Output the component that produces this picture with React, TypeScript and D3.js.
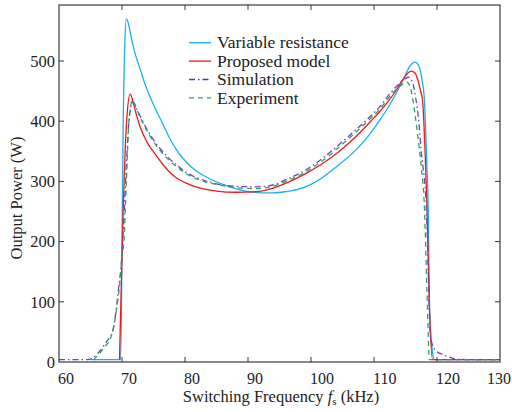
import React from "react";
import * as d3 from "d3";

// switching frequency (kHz) / output power (W)
const varResF = [65, 69.8, 70.0, 70.2, 70.45, 70.7, 71.0, 71.3, 71.7, 72.2, 72.9, 73.6, 74.4, 75.5, 76.5, 77.5, 78.5, 79.7, 81, 82.4, 84, 86, 88, 90, 92, 94, 96, 98.1, 100, 101.9, 104, 107.1, 109, 110.8, 112.3, 113.5, 114.6, 115.6, 116.5, 117.1, 117.6, 118.0, 118.4, 118.6, 118.8, 119.0, 119.3, 119.6, 130];
const varResP = [4, 4, 200, 400, 530, 570, 563, 548, 528, 508, 486, 463, 442, 416, 395, 373, 355, 338, 324, 313, 304, 295, 288, 283, 281, 281, 283, 287, 295, 307, 324, 352, 374, 400, 424, 446, 468, 490, 498, 492, 470, 435, 324, 259, 100, 50, 15, 4, 4];

const propF = [69.6, 70.2, 70.5, 70.8, 71.3, 71.8, 72.3, 72.9, 73.5, 74.2, 75, 76.5, 77.5, 78.5, 80, 82.4, 85, 88, 91.3, 94, 97.1, 99.5, 101.9, 104.5, 107.1, 109.5, 111, 112.4, 113.5, 114.5, 115.9, 116.5, 116.9, 117.4, 117.7, 118.1, 118.4, 118.8, 119.3, 130];
const propP = [4, 258, 350, 410, 445, 430, 410, 390, 375, 361, 349, 328, 316, 307, 298, 289, 284, 282, 283, 289, 302, 315, 330, 350, 374, 400, 417, 435, 451, 468, 483, 480, 471, 450, 435, 352, 259, 90, 4, 4];

const simF = [60, 64.5, 65.5, 66.4, 67.5, 68.6, 69.4, 70.0, 70.4, 70.8, 71.2, 71.7, 72.3, 73.0, 74.0, 75.0, 76.0, 77.3, 78.7, 80.5, 82.4, 85, 87.7, 91.3, 94, 96, 99, 101.9, 105, 109, 111, 112.4, 114, 115.5, 116.1, 116.6, 117.1, 117.5, 118.3, 119.0, 119.7, 121, 122, 123, 125, 130];
const simP = [4, 4, 8, 17, 33, 54, 117, 180, 260, 350, 410, 432, 421, 406, 386, 369, 355, 340, 327, 313, 304, 296, 292, 291, 294, 303, 318, 339, 366, 404, 425, 444, 462, 473, 465, 440, 400, 350, 258, 40, 20, 12, 8, 5, 4, 4];

const expF = [65.5, 66.5, 67.5, 68.1, 68.7, 69.2, 69.7, 70.0, 70.3, 70.7, 71.1, 71.7, 72.3, 73.0, 74.0, 75.0, 76, 77.3, 78.7, 80.5, 82.4, 85, 87.7, 91.3, 94, 96, 99, 101.9, 105, 109, 111, 112.4, 114, 115.2, 115.7, 116.1, 116.5, 116.9, 117.5, 118.0, 118.4, 118.8, 130];
const expP = [4, 15, 28, 37, 60, 92, 137, 175, 200, 300, 400, 435, 420, 404, 383, 366, 352, 337, 324, 311, 302, 295, 290, 288, 292, 300, 315, 335, 362, 400, 421, 440, 457, 465, 458, 440, 412, 380, 324, 258, 120, 4, 4];

const xTicks = [60, 70, 80, 90, 100, 110, 120, 130];
const yTicks = [0, 100, 200, 300, 400, 500];

const series = [
  { name: "Variable resistance", f: varResF, p: varResP, color: "#19b1ee", dash: "" },
  { name: "Proposed model", f: propF, p: propP, color: "#f01818", dash: "" },
  { name: "Simulation", f: simF, p: simP, color: "#7a3fc0", dash: "6,3,1.5,3" },
  { name: "Experiment", f: expF, p: expP, color: "#1ea860", dash: "5,4" },
];

const left = 59, right = 500, top = 5, bottom = 362;
const font = "'Times New Roman', 'Liberation Serif', 'DejaVu Serif', serif";
const txt = { fontFamily: font };

const App = () => {
  const x = d3.scaleLinear().domain([60, 130]).range([left, right]);
  const y = d3.scaleLinear().domain([0, 593]).range([bottom, top]);

  const line = d3
    .line<[number, number]>()
    .x(d => x(d[0]))
    .y(d => y(d[1]))
    .curve(d3.curveMonotoneX);

  const axisColor = "#3a3a3a";
  const last = xTicks[xTicks.length - 1];

  return (
    <svg width={512} height={412} style={{ position: "absolute", left: 0, top: 0, background: "#fff", fontFamily: font }}>
      <rect x={0} y={0} width={512} height={412} fill="#fff" />
      {series.map(s => (
        <path
          key={s.name}
          d={line(s.f.map((v, i) => [v, s.p[i]] as [number, number])) || ""}
          fill="none"
          stroke={s.color}
          strokeWidth={1.3}
          strokeDasharray={s.dash}
        />
      ))}

      {/* box and inward ticks */}
      <rect x={left} y={top} width={right - left} height={bottom - top} fill="none" stroke={axisColor} strokeWidth={1.2} />
      {xTicks.slice(1, -1).map(t => (
        <g key={"xt" + t} stroke={axisColor} strokeWidth={1}>
          <line x1={x(t)} x2={x(t)} y1={bottom} y2={bottom - 5} />
          <line x1={x(t)} x2={x(t)} y1={top} y2={top + 5} />
        </g>
      ))}
      {yTicks.slice(1).map(t => (
        <g key={"yt" + t} stroke={axisColor} strokeWidth={1}>
          <line x1={left} x2={left + 5} y1={y(t)} y2={y(t)} />
          <line x1={right} x2={right - 5} y1={y(t)} y2={y(t)} />
        </g>
      ))}

      {/* tick labels */}
      {xTicks.map(t => (
        <text
          key={"xl" + t}
          x={t === last ? 511 : x(t) - 1}
          y={384}
          textAnchor={t === last ? "end" : "start"}
          fontSize={16}
          fill="#222"
          style={txt}
        >
          {t}
        </text>
      ))}
      {yTicks.map(t => (
        <text key={"yl" + t} x={55} y={y(t)} dy="0.35em" textAnchor="end" fontSize={16.5} fill="#222" style={txt}>
          {t}
        </text>
      ))}

      {/* axis titles */}
      <text x={281} y={402} textAnchor="middle" fontSize={16.5} fill="#222" style={txt}>
        Switching Frequency <tspan fontStyle="italic">f</tspan>
        <tspan fontSize={11} dy={3}>s</tspan>
        <tspan dy={-3}> (kHz)</tspan>
      </text>
      <text transform="translate(22,198) rotate(-90)" textAnchor="middle" fontSize={16.5} fill="#222" style={txt}>
        Output Power (W)
      </text>

      {/* legend */}
      {series.map((s, i) => {
        const ly = 42.7 + i * 18.4;
        return (
          <g key={"lg" + s.name}>
            <line x1={189} x2={211} y1={ly} y2={ly} stroke={i === 2 ? "#3a3adf" : s.color} strokeWidth={1.3} strokeDasharray={s.dash} />
            <text x={217} y={ly} dy="0.33em" fontSize={17.5} fill="#222" style={txt}>
              {s.name}
            </text>
          </g>
        );
      })}
    </svg>
  );
};

export default App;
